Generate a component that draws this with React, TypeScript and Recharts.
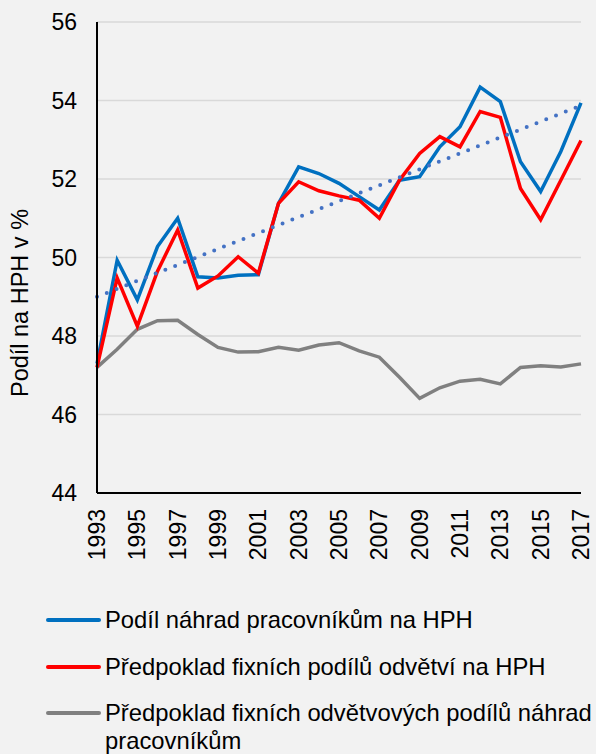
import React from 'react';
import { LineChart, Line, XAxis, YAxis, CartesianGrid } from 'recharts';

const years = [1993, 1994, 1995, 1996, 1997, 1998, 1999, 2000, 2001, 2002, 2003, 2004, 2005, 2006, 2007, 2008, 2009, 2010, 2011, 2012, 2013, 2014, 2015, 2016, 2017];
const podilNahrad = [47.3, 49.93, 48.92, 50.28, 51.0, 49.51, 49.48, 49.55, 49.56, 51.38, 52.31, 52.14, 51.89, 51.55, 51.21, 51.97, 52.06, 52.82, 53.33, 54.34, 53.97, 52.44, 51.68, 52.7, 53.94];
const fixniOdvetvi = [47.2, 49.48, 48.25, 49.65, 50.7, 49.22, 49.53, 50.02, 49.6, 51.38, 51.93, 51.7, 51.57, 51.46, 51.0, 51.97, 52.65, 53.08, 52.82, 53.72, 53.57, 51.76, 50.96, 51.97, 52.98];
const fixniNahrady = [47.2, 47.66, 48.17, 48.39, 48.4, 48.04, 47.71, 47.59, 47.6, 47.71, 47.64, 47.77, 47.83, 47.62, 47.46, 46.95, 46.41, 46.68, 46.85, 46.9, 46.78, 47.2, 47.24, 47.21, 47.29];
const trendEnds = [49.0, 53.87];
const xTicks = [1993, 1995, 1997, 1999, 2001, 2003, 2005, 2007, 2009, 2011, 2013, 2015, 2017];
const yTicks = [44, 46, 48, 50, 52, 54, 56];

const seriesNames = [
  'Podíl náhrad pracovníkům na HPH',
  'Předpoklad fixních podílů odvětví na HPH',
  'Předpoklad fixních odvětvových podílů náhrad',
];
const seriesNameTail = 'pracovníkům';
const yLabel = 'Podíl na HPH v %';

const COLORS = { blue: '#0070C0', red: '#FF0000', gray: '#808080', trend: '#4472C4' };
const FONT = '"Liberation Sans", Arial, sans-serif';

const data = years.map((year, i) => ({
  year,
  blue: podilNahrad[i],
  red: fixniOdvetvi[i],
  gray: fixniNahrady[i],
  trend: i === 0 ? trendEnds[0] : i === years.length - 1 ? trendEnds[1] : null,
}));

const XTick = (props: any) => {
  const { x, payload } = props;
  const y = 509;
  return (
    <text
      x={x}
      y={y}
      transform={`rotate(-90, ${x}, ${y})`}
      textAnchor="end"
      dy="0.35em"
      fontSize={23}
      fill="#000"
      fontFamily={FONT}
    >
      {payload.value}
    </text>
  );
};

const YLabelEl = () => (
  <text
    transform="translate(20,303) rotate(-90)"
    textAnchor="middle"
    dominantBaseline="central"
    fontSize={23.5}
    fill="#000"
    fontFamily={FONT}
  >
    {yLabel}
  </text>
);

const LegendRow = ({ color, top, children }: any) => (
  <div style={{ position: 'absolute', left: 0, top, height: 28, width: 596 }}>
    <div style={{ position: 'absolute', left: 46, top: 12, width: 55, height: 4, background: color, borderRadius: 2 }} />
    <div style={{ position: 'absolute', left: 105, top: 0, whiteSpace: 'nowrap', fontSize: 23.8, lineHeight: '28px', color: '#000', fontFamily: FONT }}>
      {children}
    </div>
  </div>
);

export default function App() {
  return (
    <div style={{ position: 'absolute', left: 0, top: 0, width: 596, height: 754, background: '#F2F2F2', overflow: 'hidden' }}>
      <LineChart width={596} height={560} data={data} margin={{ top: 22, right: 15, left: 0, bottom: 0 }}>
        <CartesianGrid vertical={false} stroke="#D9D9D9" strokeWidth={1.5} />
        <XAxis
          dataKey="year"
          type="number"
          domain={[1993, 2017]}
          ticks={xTicks}
          interval={0}
          height={67}
          tickLine={false}
          axisLine={{ stroke: '#000', strokeWidth: 2 }}
          tick={<XTick />}
        />
        <YAxis
          domain={[44, 56]}
          ticks={yTicks}
          width={97}
          tickLine={false}
          tickMargin={14}
          axisLine={{ stroke: '#000', strokeWidth: 2 }}
          tick={{ fontSize: 23, fill: '#000', fontFamily: FONT }}
          label={<YLabelEl />}
        />
        <Line dataKey="gray" stroke={COLORS.gray} strokeWidth={3.5} dot={false} isAnimationActive={false} />
        <Line dataKey="blue" stroke={COLORS.blue} strokeWidth={3.5} dot={false} isAnimationActive={false} />
        <Line dataKey="red" stroke={COLORS.red} strokeWidth={3.5} dot={false} isAnimationActive={false} />
        <Line
          dataKey="trend"
          connectNulls
          stroke={COLORS.trend}
          strokeWidth={4}
          strokeDasharray="0 10.5"
          strokeLinecap="round"
          dot={false}
          isAnimationActive={false}
        />
      </LineChart>
      <LegendRow color={COLORS.blue} top={606}>{seriesNames[0]}</LegendRow>
      <LegendRow color={COLORS.red} top={653}>{seriesNames[1]}</LegendRow>
      <LegendRow color={COLORS.gray} top={699}>{seriesNames[2]}<br />{seriesNameTail}</LegendRow>
    </div>
  );
}
